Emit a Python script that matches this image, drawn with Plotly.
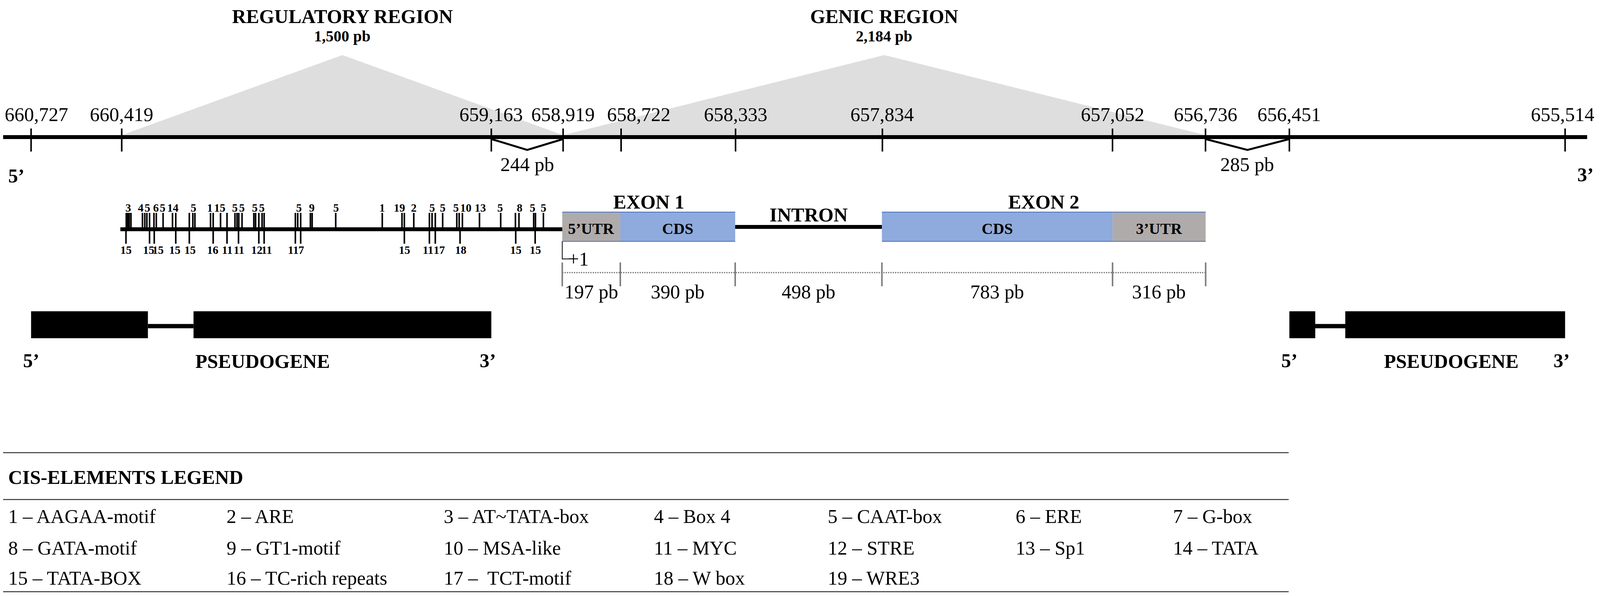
import plotly.graph_objects as go

FONT = "Liberation Serif"
H = 1510  # page has a small body margin; keep the whole figure inside the window

# ---- main sequence, genomic coordinates (bp) ----
seq_start = 660822
seq_end = 655439
tick_pos = [660727, 660419, 659163, 658919, 658722, 658333, 657834,
            657052, 656736, 656451, 655514]
tick_labels = ["660,727", "660,419", "659,163", "658,919", "658,722", "658,333",
               "657,834", "657,052", "656,736", "656,451", "655,514"]

region_names = ["REGULATORY REGION", "GENIC REGION"]
region_sizes = ["1,500 pb", "2,184 pb"]
region_start = [660419, 658919]
region_end = [658919, 656736]

gap_start = [659163, 656736]
gap_end = [658919, 656451]
gap_labels = ["244 pb", "285 pb"]

# pseudogenes: exon1 start, exon1 end, exon2 start, exon2 end
pseudogenes = [[660727, 660330, 660175, 659163],
               [656451, 656363, 656261, 655514]]
pseudo_label_pos = [659940, 655900]

# ---- gene structure, bp from +1 ----
seg_names = ["5’UTR", "CDS", "INTRON", "CDS", "3’UTR"]
seg_len = [197, 390, 498, 783, 316]
seg_kind = ["utr", "cds", "intron", "cds", "utr"]
exon_names = ["EXON 1", "EXON 2"]
promoter_len = 1500

# cis-elements (bp from +1), above and below the promoter line
cis_up_pos = [-1480, -1475, -1470, -1464, -1425, -1417, -1410, -1401, -1386, -1378,
              -1355, -1323, -1312, -1266, -1254, -1247, -1194, -1185, -1160, -1138,
              -1111, -1104, -1098, -1087, -1047, -1041, -1030, -1019, -1012,
              -906, -898, -888, -855, -849, -769, -611, -544, -536, -504,
              -451, -442, -431, -406, -358, -350, -339, -281, -209, -159, -147,
              -97, -91, -64]
cis_up_text = ["3", "4", "5", "6", "5", "14", "5", "1", "15", "5", "5", "5", "5",
               "5", "9", "5", "1", "19", "2", "5", "5", "5", "10", "13", "5", "8", "5", "5"]
cis_up_text_pos = [-1473, -1430, -1408, -1379, -1356, -1322, -1251, -1196, -1163,
                   -1111, -1087, -1043, -1019, -894, -850, -768, -611, -553, -504,
                   -441, -406, -361, -327, -278, -211, -145, -101, -64]
cis_dn_pos = [-1481, -1401, -1385, -1312, -1266, -1185, -1138, -1099, -1030, -1012,
              -906, -888, -536, -451, -431, -347, -158, -92]
cis_dn_text = ["15", "15", "15", "15", "15", "16", "11", "11", "12", "11", "11", "7",
               "15", "11", "17", "18", "15", "15"]
cis_dn_text_pos = [-1481, -1404, -1372, -1315, -1264, -1187, -1138, -1098, -1037,
                   -1003, -914, -885, -535, -456, -418, -345, -158, -91]

# legend
legend_items = ["1 – AAGAA-motif", "2 – ARE", "3 – AT~TATA-box", "4 – Box 4",
                "5 – CAAT-box", "6 – ERE", "7 – G-box",
                "8 – GATA-motif", "9 – GT1-motif", "10 – MSA-like", "11 – MYC",
                "12 – STRE", "13 – Sp1", "14 – TATA",
                "15 – TATA-BOX", "16 – TC-rich repeats", "17 –\u00a0 TCT-motif",
                "18 – W box", "19 – WRE3"]

# horizontal layout is given in reference pixels, mapped onto the paper
X0, X1 = 9, 4461


def paper(px):
    return (px - X0) / (X1 - X0)


fig = go.Figure()


def add_line(xs, ys, width, color="black", axis="x", dash=None):
    fig.add_trace(go.Scatter(x=xs, y=ys, mode="lines", xaxis=axis, yaxis="y",
                             line=dict(color=color, width=width, dash=dash),
                             hoverinfo="skip", showlegend=False))


def label(text, x, y, size, bold=False, xref="x", anchor="center", xshift=0):
    if bold:
        text = "<b>" + text + "</b>"
    fig.add_annotation(text=text, x=x, y=y, xref=xref, yref="y", showarrow=False,
                       font=dict(family=FONT, size=size, color="black"),
                       xanchor=anchor, yanchor="middle", xshift=xshift)


def bars(positions, y0, y1, width, axis, color="black"):
    xs, ys = [], []
    for p in positions:
        xs += [p, p, None]
        ys += [y0, y1, None]
    add_line(xs, ys, width, color=color, axis=axis)


# ---- top: region triangles ----
for name, size, a, b in zip(region_names, region_sizes, region_start, region_end):
    mid = (a + b) / 2
    fig.add_trace(go.Scatter(x=[a, mid, b, a], y=[346, 141, 346, 346], mode="lines",
                             fill="toself", fillcolor="#dedede", line=dict(width=0),
                             hoverinfo="skip", showlegend=False))
    label(name, mid, 42, 50, bold=True)
    label(size, mid, 92, 40, bold=True)

add_line([seq_start, seq_end], [351, 351], 10)
bars(tick_pos, 329, 388, 4, "x")
shifts = {"660,727": 14, "658,722": 46, "655,514": -6}
for p, t in zip(tick_pos, tick_labels):
    label(t, p, 293, 50, xshift=shifts.get(t, 0))

for a, b, t in zip(gap_start, gap_end, gap_labels):
    mid = (a + b) / 2
    add_line([a, mid, b], [356, 384, 356], 5)
    label(t, mid, 421, 50)

label("5’", paper(46), 450, 50, bold=True, xref="paper")
label("3’", 1, 447, 50, bold=True, xref="paper", anchor="right", xshift=-6)

# ---- promoter with cis-elements ----
add_line([-promoter_len, 0], [587, 587], 10, axis="x2")
bars(cis_up_pos, 545, 583, 4, "x2")
bars(cis_dn_pos, 591, 624, 4, "x2")
for t, p in zip(cis_up_text, cis_up_text_pos):
    label(t, p, 532, 29, bold=True, xref="x2")
for t, p in zip(cis_dn_text, cis_dn_text_pos):
    label(t, p, 640, 29, bold=True, xref="x2")

# ---- gene structure ----
bounds = [0]
for L in seg_len:
    bounds.append(bounds[-1] + L)

colors = {"utr": "#afabab", "cds": "#8faadc"}
for name, kind, a, b in zip(seg_names, seg_kind, bounds[:-1], bounds[1:]):
    if kind == "intron":
        add_line([a, b], [581, 581], 10, axis="x2")
        label(name, (a + b) / 2, 550, 50, bold=True, xref="x2")
        continue
    fig.add_shape(type="rect", xref="x2", yref="y", x0=a, x1=b, y0=543, y1=618,
                  fillcolor=colors[kind], line=dict(width=0), layer="below")
    add_line([a, b], [543, 543], 2, color="#4472c4", axis="x2")
    add_line([a, b], [618, 618], 2, color="#4472c4", axis="x2")
    label(name, (a + b) / 2, 585, 40, bold=True, xref="x2")

exon_spans = [(bounds[0], bounds[2]), (bounds[3], bounds[5])]
for name, (a, b) in zip(exon_names, exon_spans):
    label(name, (a + b) / 2, 517, 50, bold=True, xref="x2")

# +1 marker
add_line([0, 0, 32], [618, 663, 663], 2, axis="x2")
label("+1", 54, 663, 50, xref="x2")

# size ruler
add_line([bounds[0], bounds[-1]], [698, 698], 3, color="#666666", axis="x2", dash="dot")
bars(bounds, 672, 733, 4, "x2", color="#7f7f7f")
for L, a, b in zip(seg_len, bounds[:-1], bounds[1:]):
    label(f"{L} pb", (a + b) / 2, 747, 50, xref="x2")

# ---- pseudogenes ----
for (s1, e1, s2, e2), lp in zip(pseudogenes, pseudo_label_pos):
    for a, b in [(s1, e1), (s2, e2)]:
        fig.add_shape(type="rect", xref="x", yref="y", x0=a, x1=b, y0=797, y1=866,
                      fillcolor="black", line=dict(width=0))
    add_line([e1, s2], [835, 835], 11)
    label("5’", s1, 923, 50, bold=True)
    label("3’", e2 + 12, 923, 50, bold=True)
    label("PSEUDOGENE", lp, 925, 50, bold=True)

# ---- legend table ----
for yl in [1159, 1279, 1515]:
    fig.add_shape(type="line", xref="paper", yref="y", x0=0, x1=paper(3600), y0=yl, y1=yl,
                  line=dict(color="#333333", width=2.5))
label("CIS-ELEMENTS LEGEND", paper(21), 1222, 50, bold=True, xref="paper", anchor="left")

col_px = [21, 631, 1238, 1825, 2310, 2835, 3275]
row_y = [1322, 1403, 1480]
for i, item in enumerate(legend_items):
    r, c = divmod(i, 7)
    label(item, paper(col_px[c]), row_y[r], 50, xref="paper", anchor="left")

fig.update_layout(
    height=H,
    autosize=True,
    margin=dict(l=0, r=0, t=0, b=0),
    paper_bgcolor="white", plot_bgcolor="white",
    xaxis=dict(range=[660822, 655406], visible=False, domain=[0, 1]),
    xaxis2=dict(range=[-1898, 3512], visible=False, overlaying="x", domain=[0, 1]),
    yaxis=dict(range=[1518, 8], visible=False, domain=[0, 1]),
    showlegend=False,
)

fig.write_html("out.html")
